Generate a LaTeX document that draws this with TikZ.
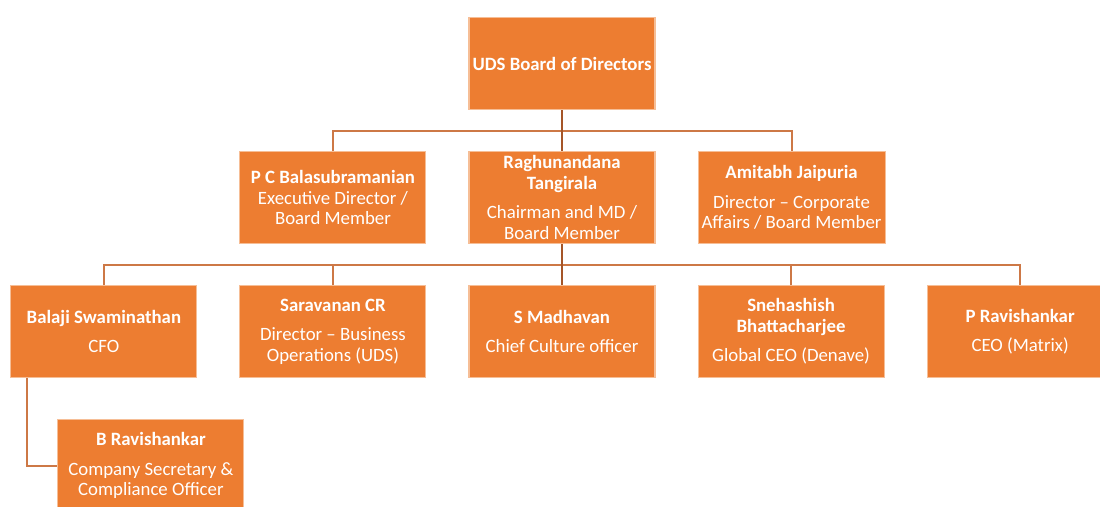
\documentclass[tikz,border=0pt]{standalone}
\usepackage{fontspec}
\setmainfont{Carlito}
\usepackage{tikz}
\usetikzlibrary{positioning,calc}
\definecolor{udsorange}{RGB}{237,125,49}
\definecolor{udsedge}{RGB}{246,190,150}
\definecolor{udsline}{RGB}{205,120,70}
\definecolor{udstrunk}{RGB}{165,85,40}

\begin{document}
\begin{tikzpicture}[
  node distance=0.82cm and 0.84cm,
  post/.style={rectangle, draw=udsedge, line width=0.6pt, fill=udsorange, text=white,
               minimum width=3.72cm, minimum height=1.84cm, align=center,
               font=\fontsize{10.7}{11.7}\selectfont, inner sep=2pt},
  link/.style={udsline, line width=1.1pt},
  trunk/.style={udstrunk, line width=1.1pt}
]
\useasboundingbox (0,0) rectangle (22,-10.12);

\node[post] (board) at (11.24,-1.27) {\textbf{UDS Board of Directors}};

\node[post, below=of board] (raghu) {\textbf{Raghunandana}\\\textbf{Tangirala}\\[5pt]Chairman and MD /\\Board Member};
\node[post, left=of raghu] (pcb) {\textbf{P C Balasubramanian}\\Executive Director /\\Board Member};
\node[post, right=of raghu] (amitabh) {\textbf{Amitabh Jaipuria}\\[5pt]Director -- Corporate\\Affairs / Board Member};

\node[post, below=of raghu] (madhavan) {\textbf{S Madhavan}\\[5pt]Chief Culture officer};
\node[post, left=of madhavan] (saravanan) {\textbf{Saravanan CR}\\[5pt]Director -- Business\\Operations (UDS)};
\node[post, left=of saravanan] (balaji) {\textbf{Balaji Swaminathan}\\[5pt]CFO};
\node[post, right=of madhavan] (snehashish) {\textbf{Snehashish}\\\textbf{Bhattacharjee}\\[5pt]Global CEO (Denave)};
\node[post, right=of snehashish] (pravi) {\textbf{P Ravishankar}\\[5pt]CEO (Matrix)};

\node[post, below=of balaji, xshift=0.94cm] (bravi) {\textbf{B Ravishankar}\\[5pt]Company Secretary \&\\Compliance Officer};

% buses between the rows
\coordinate (bus1) at ($(board.south)!0.5!(raghu.north)$);
\coordinate (bus2) at ($(raghu.south)!0.5!(madhavan.north)$);
\coordinate (cfotap) at ($(balaji.south west)+(0.34,0)$);

\draw[link] (pcb.north) |- (bus1) -| (amitabh.north);
\draw[trunk] (board.south) -- (raghu.north);

\draw[link] (balaji.north) |- (bus2) -| (pravi.north);
\draw[link] (saravanan.north) -- (saravanan.north |- bus2);
\draw[link] (snehashish.north) -- (snehashish.north |- bus2);
\draw[trunk] (raghu.south) -- (madhavan.north);

\draw[link] (cfotap) |- (bravi.west);
\end{tikzpicture}
\end{document}
